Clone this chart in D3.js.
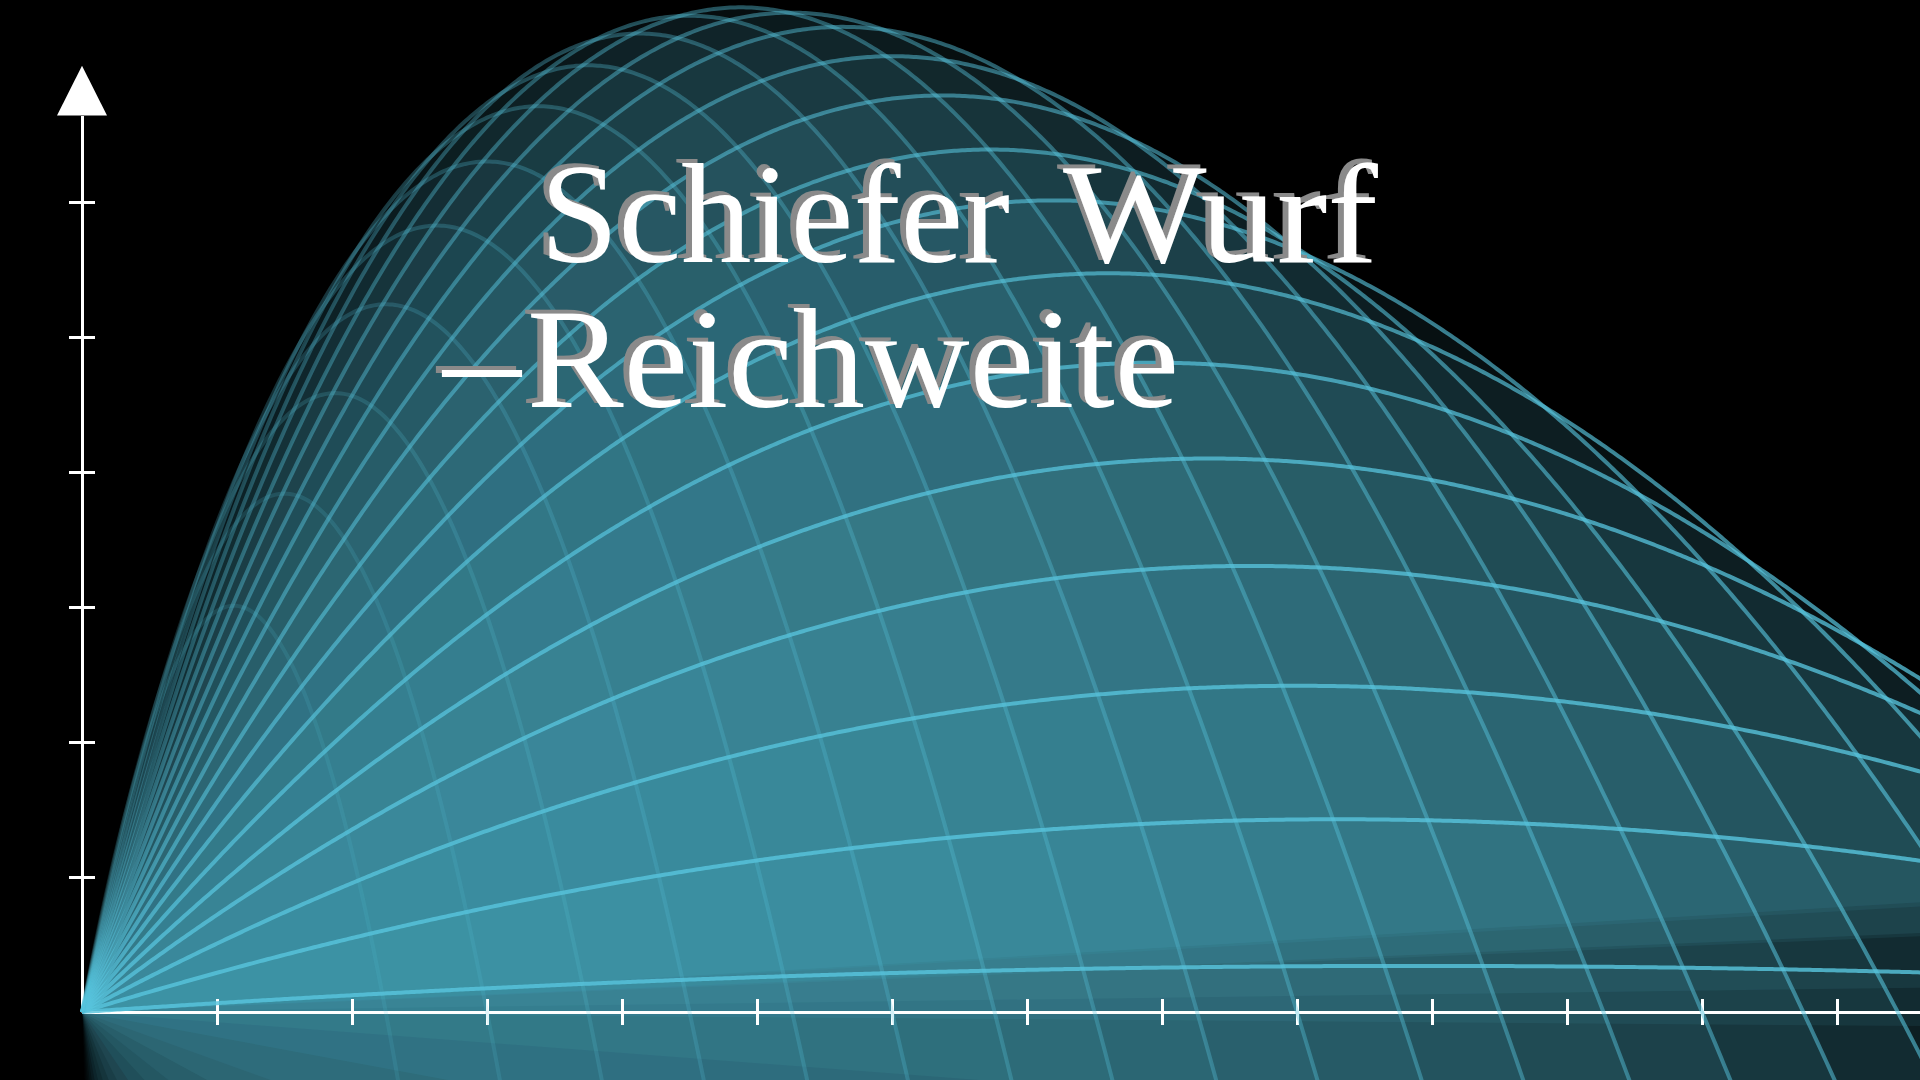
<!DOCTYPE html>
<html>
<head>
<meta charset="utf-8">
<script src="https://cdn.jsdelivr.net/npm/d3@7"></script>
<style>
  html, body { margin: 0; background: #000; overflow: hidden; }
  svg { display: block; }
</style>
</head>
<body>
<script>
const width = 1920;  // svg width
const height = 1080; // svg height

// one trajectory per entry: launch slope (tan of the launch angle) and landing point on the x axis
const launchSlopes = [0.069, 0.307, 0.537, 0.764, 0.982, 1.21, 1.44, 1.67, 1.90, 2.13, 2.36, 2.59,
                      2.82, 3.05, 3.28, 3.51, 3.74, 3.97, 4.20, 4.43, 4.66, 4.89, 5.12, 5.35];
const landingX = [19.8, 18.6, 18.0, 17.3, 16.7, 15.9, 15.2, 14.4, 13.45, 12.75, 12.0, 11.27,
                  10.5, 9.76, 9.0, 8.26, 7.5, 6.76, 6.0, 5.26, 4.5, 3.75, 3.0, 2.25];
const plotEndX = 16; // every trajectory is plotted from x = 0 to here

const xTicks = [1, 2, 3, 4, 5, 6, 7, 8, 9, 10, 11, 12, 13];
const yTicks = [1, 2, 3, 4, 5, 6];
const yAxisTop = 6.64; // where the y axis line meets the arrow head
const yArrowTip = 7.01;

// title pieces, laid out like the LaTeX title
const titleWords = ['Schiefer', 'Wurf', '\u2013', 'Reichweite'];

const color = '#58C4DD';

const x = d3.scaleLinear().domain([0, 16]).range([82, 82 + 16 * 135]);
const y = d3.scaleLinear().domain([0, 7]).range([1012, 1012 - 7 * 135]);

const strokeOpacity = d3.scaleLinear().domain([0, 4, 10, 16, 23]).range([0.82, 0.75, 0.5, 0.32, 0.14]);
const fillOpacity = d3.scaleLinear().domain([0, 10, 17, 23]).range([0.085, 0.08, 0.05, 0.012]);

const svg = d3.select('body')
              .append('svg')
              .attr('width', width)
              .attr('height', height);

// grey shadow for the title, up and to the left
const filter = svg.append('defs')
                  .append('filter')
                  .attr('id', 'shadow')
                  .attr('x', '-5%').attr('y', '-10%')
                  .attr('width', '110%').attr('height', '120%');
filter.append('feOffset').attr('in', 'SourceAlpha').attr('dx', -6).attr('dy', -4).attr('result', 'off');
filter.append('feFlood').attr('flood-color', '#8a8a8a').attr('result', 'grey');
filter.append('feComposite').attr('in', 'grey').attr('in2', 'off').attr('operator', 'in').attr('result', 'sh');
const merge = filter.append('feMerge');
merge.append('feMergeNode').attr('in', 'sh');
merge.append('feMergeNode').attr('in', 'SourceGraphic');

svg.append('rect')
   .attr('width', width)
   .attr('height', height)
   .attr('fill', '#000');

// build every trajectory y = m x (1 - x / R)
const trajectories = launchSlopes.map((m, i) => {
  const R = landingX[i];
  const pts = d3.range(0, plotEndX + 1e-9, 0.02).map((t) => [t, m * t * (1 - t / R)]);
  return { i: i, pts: pts };
});

const line = d3.line()
               .x((d) => x(d[0]))
               .y((d) => y(d[1]));

// fills, each closed back to the origin
svg.append('g')
   .selectAll('path')
   .data(trajectories)
   .enter()
   .append('path')
   .attr('d', (d) => line(d.pts) + 'Z')
   .attr('fill', color)
   .attr('fill-opacity', (d) => fillOpacity(d.i))
   .attr('stroke', 'none');

// axes
const xAxis = svg.append('g')
                 .attr('transform', 'translate(0,' + y(0) + ')')
                 .call(d3.axisBottom(x).tickValues(xTicks).tickSize(13).tickSizeOuter(0).tickFormat(''));

const yAxisScale = y.copy().domain([0, yAxisTop]).range([y(0), y(yAxisTop)]);
const yAxis = svg.append('g')
                 .attr('transform', 'translate(' + x(0) + ',0)')
                 .call(d3.axisLeft(yAxisScale).tickValues(yTicks).tickSize(13).tickSizeOuter(0).tickFormat(''));

xAxis.selectAll('.tick line').attr('y1', -13).attr('y2', 13);
yAxis.selectAll('.tick line').attr('x1', 13).attr('x2', -13);

[xAxis, yAxis].forEach((g) => {
  g.select('.domain').attr('stroke', '#fff').attr('stroke-width', 3);
  g.selectAll('.tick line').attr('stroke', '#fff').attr('stroke-width', 3);
});

svg.append('path')
   .attr('d', 'M' + x(0) + ',' + y(yArrowTip) +
              'L' + (x(0) + 25) + ',' + y(yAxisTop) +
              'L' + (x(0) - 25) + ',' + y(yAxisTop) + 'Z')
   .attr('fill', '#fff');

// strokes on top
svg.append('g')
   .selectAll('path')
   .data(trajectories)
   .enter()
   .append('path')
   .attr('d', (d) => line(d.pts))
   .attr('fill', 'none')
   .attr('stroke', color)
   .attr('stroke-width', 4)
   .attr('stroke-opacity', (d) => strokeOpacity(d.i));

// title
const titlePos = [
  { x: 540, y: 262, w: 470 },
  { x: 1063, y: 262, w: 315 },
  { x: 443, y: 407, w: 78 },
  { x: 527, y: 407, w: 652 }
];
const title = svg.append('g')
                 .attr('font-family', "'Liberation Serif', 'DejaVu Serif', serif")
                 .attr('font-size', 142)
                 .attr('filter', 'url(#shadow)');

titleWords.forEach((t, i) => {
  const p = titlePos[i];
  title.append('text')
       .text(t)
       .attr('x', p.x)
       .attr('y', p.y)
       .attr('textLength', p.w)
       .attr('lengthAdjust', 'spacingAndGlyphs')
       .attr('fill', '#fff');
});
</script>
</body>
</html>
